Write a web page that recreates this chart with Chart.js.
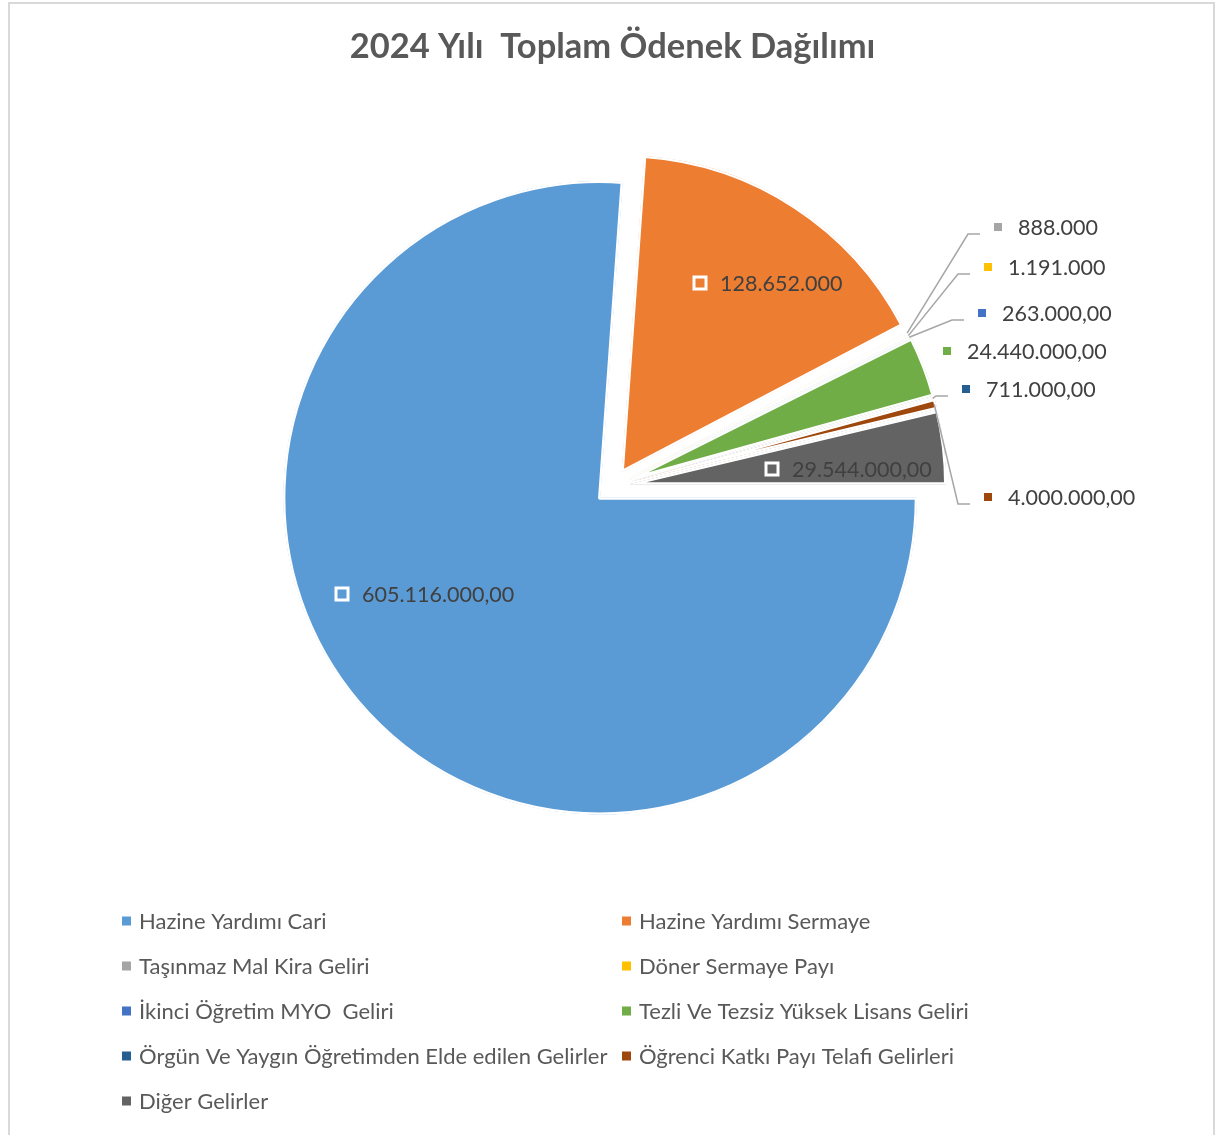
<!DOCTYPE html>
<html>
<head>
<meta charset="utf-8">
<title>2024 Yılı Toplam Ödenek Dağılımı</title>
<script src="https://cdn.jsdelivr.net/npm/chart.js@4.4.1/dist/chart.umd.min.js"></script>
<style>
  html, body { margin: 0; padding: 0; background: #fff; }
  #wrap { width: 1219px; height: 1135px; }
</style>
</head>
<body>
<div id="wrap"><canvas id="pieChart" width="1219" height="1135"></canvas></div>
<script>
// Chart data
const categories = [
  'Hazine Yardımı Cari',
  'Hazine Yardımı Sermaye',
  'Taşınmaz Mal Kira Geliri',
  'Döner Sermaye Payı',
  'İkinci Öğretim MYO  Geliri',
  'Tezli Ve Tezsiz Yüksek Lisans Geliri',
  'Örgün Ve Yaygın Öğretimden Elde edilen Gelirler',
  'Öğrenci Katkı Payı Telafi Gelirleri',
  'Diğer Gelirler'
];
const values = [605116000, 128652000, 888000, 1191000, 263000, 24440000, 711000, 4000000, 29544000];
const valueTexts = [
  '605.116.000,00', '128.652.000', '888.000', '1.191.000', '263.000,00',
  '24.440.000,00', '711.000,00', '4.000.000,00', '29.544.000,00'
];
const sliceColors = ['#5b9bd5', '#ed7d31', '#a5a5a5', '#ffc000', '#4472c4', '#70ad47', '#255e91', '#9e480e', '#636363'];

// Where each data label sits (marker centre)
const labelSpots = [
  { x: 342, y: 594, inside: true },
  { x: 700, y: 283, inside: true },
  { x: 998, y: 227, leader: true },
  { x: 988, y: 267, leader: true },
  { x: 982, y: 313, leader: true },
  { x: 947, y: 351 },
  { x: 966, y: 389, leader: true },
  { x: 988, y: 497, leader: true },
  { x: 772, y: 469, inside: true }
];

const EXPLODE = 17;
const FONT = 'Lato, "Open Sans", sans-serif';

// Frame round the whole chart
const framePlugin = {
  id: 'frame',
  beforeDraw(chart) {
    const ctx = chart.ctx;
    ctx.save();
    ctx.fillStyle = '#fff';
    ctx.fillRect(0, 0, chart.width, chart.height);
    ctx.strokeStyle = '#d9d9d9';
    ctx.lineWidth = 2;
    ctx.strokeRect(9, 3, 1205, 1200);
    ctx.restore();
  }
};

// Pull every slice out along its middle angle
const explodePlugin = {
  id: 'explode',
  beforeDatasetDraw(chart, args) {
    const ctx = chart.ctx;
    args.meta.data.forEach(arc => {
      const mid = (arc.startAngle + arc.endAngle) / 2;
      ctx.save();
      ctx.translate(Math.cos(mid) * EXPLODE, Math.sin(mid) * EXPLODE);
      arc.draw(ctx);
      ctx.restore();
    });
    return false;
  }
};

// Data labels with markers and leader lines
const labelPlugin = {
  id: 'valueLabels',
  afterDatasetsDraw(chart) {
    const ctx = chart.ctx;
    const arcs = chart.getDatasetMeta(0).data;
    ctx.save();
    ctx.font = '21.5px ' + FONT;
    ctx.textBaseline = 'middle';
    ctx.textAlign = 'left';
    arcs.forEach((arc, i) => {
      const spot = labelSpots[i];
      if (spot.leader) {
        const mid = (arc.startAngle + arc.endAngle) / 2;
        const r = arc.outerRadius + EXPLODE - 2;
        const sx = arc.x + Math.cos(mid) * r;
        const sy = arc.y + Math.sin(mid) * r;
        const lineY = spot.y + 7;
        const elbowX = Math.max(sx + 2, spot.x - 30);
        ctx.strokeStyle = '#a6a6a6';
        ctx.lineWidth = 1.5;
        ctx.beginPath();
        ctx.moveTo(sx, sy);
        ctx.lineTo(elbowX, lineY);
        ctx.lineTo(spot.x - 18, lineY);
        ctx.stroke();
      }
      if (spot.inside) {
        ctx.fillStyle = '#fff';
        ctx.fillRect(spot.x - 7.5, spot.y - 7.5, 15, 15);
        ctx.fillStyle = sliceColors[i];
        ctx.fillRect(spot.x - 4.5, spot.y - 4.5, 9, 9);
      } else {
        ctx.fillStyle = sliceColors[i];
        ctx.fillRect(spot.x - 4, spot.y - 4, 8, 8);
      }
      ctx.fillStyle = '#404040';
      ctx.fillText(valueTexts[i], spot.x + 20, spot.y + 1);
    });
    ctx.restore();
  }
};

// Two column legend below the pie
const legendPlugin = {
  id: 'gridLegend',
  afterDraw(chart) {
    const ctx = chart.ctx;
    const labels = chart.data.labels;
    const colors = chart.data.datasets[0].backgroundColor;
    ctx.save();
    ctx.font = '22px ' + FONT;
    ctx.textBaseline = 'middle';
    labels.forEach((lab, i) => {
      const col = i % 2;
      const row = Math.floor(i / 2);
      const x = col === 0 ? 122 : 622;
      const y = 921 + row * 45;
      ctx.fillStyle = colors[i];
      ctx.fillRect(x, y - 4.5, 9, 9);
      ctx.fillStyle = '#595959';
      ctx.fillText(lab, x + 17, y + 1);
    });
    ctx.restore();
  }
};

new Chart(document.getElementById('pieChart'), {
  type: 'pie',
  data: {
    labels: categories,
    datasets: [{
      data: values,
      backgroundColor: sliceColors,
      borderColor: '#ffffff',
      borderWidth: 2,
      borderAlign: 'inner'
    }]
  },
  options: {
    responsive: false,
    animation: false,
    events: [],
    rotation: 90,
    radius: 317,
    layout: { padding: { left: 6, right: 0, top: 0, bottom: 230 } },
    plugins: {
      legend: { display: false },
      tooltip: { enabled: false },
      title: {
        display: true,
        text: '2024 Yılı  Toplam Ödenek Dağılımı',
        color: '#595959',
        font: { family: FONT, size: 34.5, weight: 'bold' },
        padding: { top: 26, bottom: 0 }
      }
    }
  },
  plugins: [framePlugin, explodePlugin, labelPlugin, legendPlugin]
});
</script>
</body>
</html>
